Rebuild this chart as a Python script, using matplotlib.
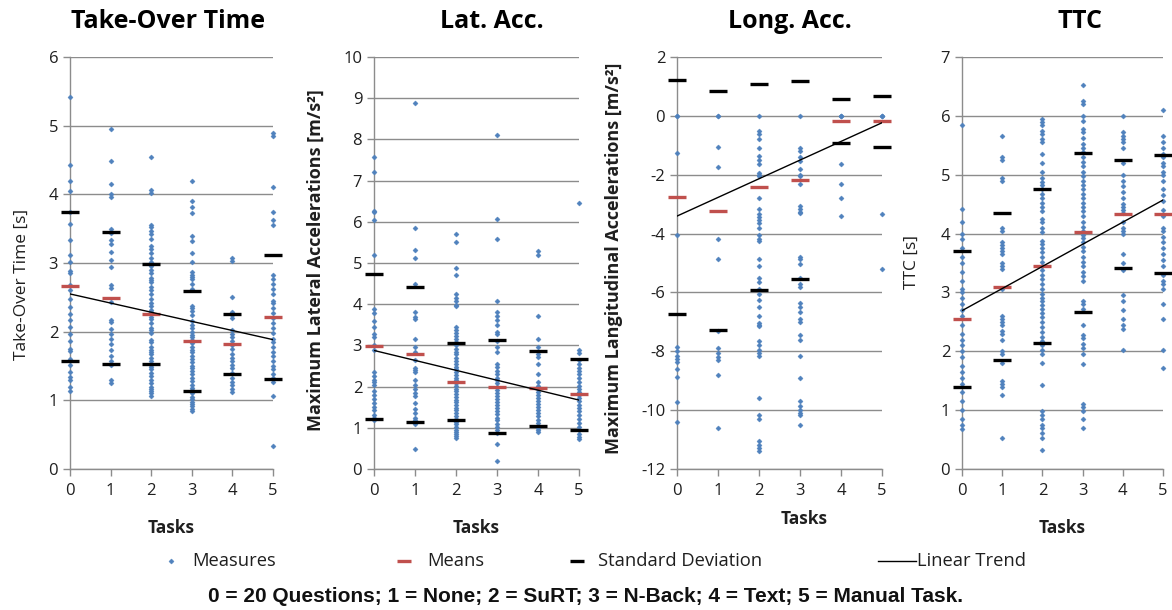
import numpy as np
import matplotlib
matplotlib.use("Agg")
import matplotlib.pyplot as plt

plt.rcParams["font.family"] = ["Open Sans", "DejaVu Sans"]
plt.rcParams["axes.unicode_minus"] = False

TASKS = [0, 1, 2, 3, 4, 5]

# ---- Take-Over Time [s] ----
tot_measures = [
    [5.42, 4.43, 4.19, 4.05, 3.75, 3.57, 3.34, 3.11, 3.02, 2.88, 2.85, 2.68, 2.6, 2.48, 2.36,
     2.26, 2.17, 2.07, 1.97, 1.87, 1.75, 1.72, 1.6, 1.51, 1.41, 1.34, 1.29, 1.19, 1.14],
    [4.95, 4.48, 4.15, 4.0, 3.96, 3.5, 3.43, 3.33, 3.28, 3.16, 3.04, 2.94, 2.68, 2.63, 2.43,
     2.17, 2.14, 2.04, 1.97, 1.9, 1.82, 1.73, 1.65, 1.58, 1.51, 1.29, 1.25],
    [4.55, 4.07, 4.02, 3.55, 3.52, 3.47, 3.42, 3.35, 3.25, 3.2, 3.15, 3.08, 3.02, 2.98, 2.95,
     2.9, 2.85, 2.78, 2.75, 2.72, 2.65, 2.6, 2.55, 2.48, 2.42, 2.38, 2.32, 2.28, 2.22, 2.18,
     2.12, 2.05, 2.02, 1.98, 1.88, 1.85, 1.78, 1.73, 1.7, 1.67, 1.62, 1.58, 1.52, 1.48, 1.45,
     1.4, 1.35, 1.3, 1.25, 1.2, 1.17, 1.13, 1.1, 1.07],
    [4.19, 3.9, 3.82, 3.73, 3.4, 3.32, 3.14, 3.02, 2.87, 2.83, 2.79, 2.76, 2.7, 2.62, 2.38,
     2.35, 2.3, 2.25, 2.15, 2.1, 2.05, 2.0, 1.95, 1.92, 1.88, 1.83, 1.78, 1.74, 1.7, 1.65,
     1.6, 1.56, 1.5, 1.47, 1.42, 1.38, 1.32, 1.28, 1.23, 1.18, 1.15, 1.1, 1.05, 1.02, 0.98,
     0.95, 0.92, 0.88, 0.84],
    [3.08, 3.03, 2.5, 2.28, 2.25, 2.2, 2.02, 1.97, 1.92, 1.86, 1.8, 1.75, 1.68, 1.62, 1.57,
     1.52, 1.47, 1.4, 1.33, 1.27, 1.22, 1.17, 1.12],
    [4.9, 4.85, 4.1, 3.75, 3.63, 3.55, 2.82, 2.77, 2.7, 2.62, 2.55, 2.45, 2.42, 2.35, 2.27,
     2.2, 2.12, 2.05, 1.98, 1.9, 1.85, 1.78, 1.7, 1.65, 1.58, 1.5, 1.45, 1.38, 1.33, 1.27,
     1.07, 0.33],
]
tot_means = [2.66, 2.49, 2.26, 1.86, 1.82, 2.21]
tot_sd = [1.08, 0.965, 0.73, 0.73, 0.435, 0.90]

# ---- Maximum Lateral Accelerations [m/s²] ----
lat_measures = [
    [7.57, 7.22, 6.27, 6.25, 6.05, 5.2, 3.88, 3.78, 3.6, 3.45, 3.27, 3.2, 3.0, 2.9, 2.35,
     2.25, 2.15, 2.1, 2.05, 1.9, 1.8, 1.7, 1.6, 1.5, 1.42, 1.32, 1.25, 1.2],
    [8.88, 5.85, 5.32, 5.12, 4.5, 3.8, 3.7, 3.65, 3.15, 2.95, 2.85, 2.65, 2.45, 2.4, 2.35,
     2.15, 2.05, 1.95, 1.85, 1.78, 1.6, 1.45, 1.35, 1.25, 1.18, 1.1, 0.48],
    [5.7, 5.5, 4.88, 4.72, 4.25, 4.15, 4.08, 3.98, 3.95, 3.45, 3.38, 3.3, 3.22, 3.15, 3.08,
     3.0, 2.92, 2.85, 2.78, 2.7, 2.62, 2.55, 2.48, 2.42, 2.35, 2.28, 2.22, 2.15, 2.08, 2.02,
     1.95, 1.9, 1.82, 1.75, 1.68, 1.62, 1.55, 1.48, 1.42, 1.35, 1.28, 1.22, 1.15, 1.1, 1.02,
     0.95, 0.9, 0.85, 0.8, 0.75],
    [8.1, 6.08, 5.58, 4.07, 3.8, 3.72, 3.62, 3.5, 3.32, 3.28, 3.1, 2.95, 2.85, 2.55, 2.48,
     2.38, 2.3, 2.22, 2.15, 2.08, 2.0, 1.92, 1.85, 1.78, 1.7, 1.63, 1.55, 1.48, 1.4, 1.33,
     1.25, 1.18, 1.1, 1.03, 0.95, 0.88, 0.6, 0.2],
    [5.28, 5.2, 3.72, 3.15, 2.95, 2.78, 2.72, 2.55, 2.3, 2.1, 2.02, 1.95, 1.88, 1.8, 1.72,
     1.65, 1.58, 1.5, 1.42, 1.35, 1.28, 1.2, 1.12, 1.05, 1.0, 0.95, 0.9],
    [6.45, 2.9, 2.82, 2.65, 2.55, 2.45, 2.38, 2.3, 2.2, 2.12, 2.02, 1.95, 1.88, 1.8, 1.72,
     1.65, 1.55, 1.48, 1.4, 1.3, 1.22, 1.12, 1.02, 0.95, 0.85, 0.78, 0.73],
]
lat_means = [2.98, 2.78, 2.12, 2.0, 1.96, 1.81]
lat_sd = [1.76, 1.64, 0.935, 1.13, 0.915, 0.86]

# ---- Maximum Longitudinal Accelerations [m/s²] ----
lon_measures = [
    [0.0, 0.0, -1.27, -4.05, -7.86, -7.99, -8.17, -8.25, -8.37, -8.6, -8.88, -9.73, -10.41],
    [0.0, 0.0, -1.05, -1.75, -4.2, -4.88, -7.3, -7.9, -8.05, -8.2, -8.3, -8.8, -10.6],
    [0.0, -0.5, -0.6, -0.8, -1.1, -1.35, -1.5, -1.65, -1.95, -2.0, -2.05, -2.8, -3.15, -3.35,
     -3.45, -3.55, -3.65, -3.8, -4.05, -4.2, -4.25, -4.85, -5.1, -5.5, -5.65, -5.9, -6.05,
     -6.25, -6.5, -6.8, -7.05, -7.1, -7.15, -7.65, -7.8, -7.95, -8.05, -8.15, -9.6, -10.15,
     -10.3, -11.05, -11.2, -11.3, -11.4],
    [0.0, -1.1, -1.2, -1.4, -1.55, -1.8, -2.0, -2.05, -2.3, -3.05, -3.15, -3.25, -3.3, -4.8,
     -4.85, -5.05, -5.5, -5.7, -5.8, -6.35, -6.5, -6.65, -6.9, -7.0, -7.45, -7.6, -8.15,
     -8.9, -9.7, -9.85, -10.0, -10.1, -10.15, -10.5],
    [0.0, 0.0, 0.0, -1.65, -2.3, -2.8, -3.4],
    [0.0, 0.0, 0.0, -3.35, -5.2],
]
lon_means = [-2.75, -3.22, -2.41, -2.18, -0.18, -0.18]
lon_sd = [3.97, 4.07, 3.5, 3.38, 0.745, 0.87]

# ---- TTC [s] ----
ttc_measures = [
    [5.85, 4.42, 4.2, 4.0, 3.9, 3.75, 3.6, 3.5, 3.35, 3.2, 3.05, 3.0, 2.9, 2.8, 2.7, 2.6,
     2.45, 2.3, 2.2, 2.1, 2.0, 1.9, 1.75, 1.65, 1.55, 1.45, 1.3, 1.15, 1.0, 0.85, 0.75, 0.68],
    [5.65, 5.3, 5.25, 4.95, 4.9, 4.1, 4.05, 3.85, 3.8, 3.75, 3.7, 3.65, 3.5, 3.45, 3.4, 3.05,
     2.6, 2.55, 2.5, 2.45, 2.35, 2.3, 2.2, 2.0, 1.95, 1.8, 1.5, 1.45, 1.4, 1.25, 0.52],
    [5.95, 5.9, 5.85, 5.75, 5.7, 5.6, 5.55, 5.35, 5.2, 5.05, 4.95, 4.88, 4.82, 4.75, 4.68,
     4.6, 4.52, 4.45, 4.38, 4.25, 4.2, 4.1, 4.02, 3.88, 3.82, 3.75, 3.68, 3.6, 3.52, 3.45,
     3.38, 3.3, 3.22, 3.15, 3.05, 2.98, 2.9, 2.85, 2.78, 2.72, 2.65, 2.58, 2.5, 2.42, 2.32,
     2.25, 2.18, 2.1, 2.02, 1.95, 1.8, 1.42, 0.98, 0.92, 0.85, 0.75, 0.7, 0.62, 0.52, 0.33],
    [6.52, 6.25, 6.2, 6.0, 5.92, 5.78, 5.72, 5.62, 5.52, 5.45, 5.38, 5.3, 5.22, 5.15, 5.05,
     4.98, 4.9, 4.82, 4.75, 4.68, 4.6, 4.52, 4.45, 4.38, 4.3, 4.2, 4.12, 4.05, 3.98, 3.92,
     3.85, 3.78, 3.7, 3.6, 3.52, 3.45, 3.35, 3.28, 3.2, 2.85, 2.8, 2.72, 2.45, 2.28, 2.22,
     2.12, 2.05, 1.95, 1.78, 1.1, 1.05, 0.98, 0.85, 0.7],
    [6.0, 5.72, 5.65, 5.6, 5.55, 5.45, 5.2, 5.0, 4.9, 4.8, 4.7, 4.6, 4.5, 4.45, 4.4, 4.35,
     4.2, 4.1, 4.05, 4.0, 3.65, 3.5, 3.38, 2.95, 2.85, 2.7, 2.55, 2.45, 2.38, 2.02],
    [6.1, 5.65, 5.55, 5.45, 5.35, 5.3, 5.2, 5.15, 5.05, 5.0, 4.9, 4.75, 4.65, 4.55, 4.4,
     4.3, 4.1, 4.05, 3.95, 3.85, 3.75, 3.65, 3.55, 3.45, 3.3, 3.2, 3.15, 3.05, 2.8, 2.55,
     2.02, 1.72],
]
ttc_means = [2.55, 3.10, 3.45, 4.02, 4.33, 4.33]
ttc_sd = [1.16, 1.245, 1.31, 1.345, 0.915, 1.0]

BLUE = "#4F81BD"
RED = "#C0504D"
GRID = "#8C8C8C"
TXT = "#1f1f1f"

W, H = 1172, 610
fig = plt.figure(figsize=(W / 100, H / 100), dpi=100)


def px_axes(left, right, top=57, bottom=469):
    return fig.add_axes([left / W, (H - bottom) / H, (right - left) / W, (bottom - top) / H])


panels = [
    dict(box=(70, 273), measures=tot_measures, means=tot_means, sd=tot_sd,
         ylim=(0, 6), ticks=np.arange(0, 7, 1), title="Take-Over Time", tx=168,
         ylabel="Take-Over Time [s]", yx=22, yy=284, ybold=False, xl_y=528),
    dict(box=(374, 579), measures=lat_measures, means=lat_means, sd=lat_sd,
         ylim=(0, 10), ticks=np.arange(0, 11, 1), title="Lat. Acc.", tx=492,
         ylabel="Maximum Lateral Accelerations [m/s²]", yx=316, yy=260, ybold=True,
         xl_y=528),
    dict(box=(677, 882), measures=lon_measures, means=lon_means, sd=lon_sd,
         ylim=(-12, 2), ticks=np.arange(-12, 3, 2), title="Long. Acc.", tx=790,
         ylabel="Maximum Langitudinal Accelerations [m/s²]", yx=614, yy=258, ybold=True,
         xl_y=519, xl_x=804),
    dict(box=(962, 1163), measures=ttc_measures, means=ttc_means, sd=ttc_sd,
         ylim=(0, 7), ticks=np.arange(0, 8, 1), title="TTC", tx=1080,
         ylabel="TTC [s]", yx=912, yy=262, ybold=False, xl_y=528),
]

for p in panels:
    ax = px_axes(*p["box"])
    ax.set_xlim(0, 5)
    ax.set_ylim(*p["ylim"])
    ax.set_yticks(p["ticks"])
    ax.set_xticks(TASKS)
    for s in ("top", "right"):
        ax.spines[s].set_visible(False)
    for s in ("left", "bottom"):
        ax.spines[s].set_color(GRID)
        ax.spines[s].set_linewidth(1.0)
    ax.grid(axis="y", color=GRID, lw=1.0)
    ax.set_axisbelow(True)
    ax.tick_params(axis="both", colors=GRID, length=5, width=1.0, labelcolor=TXT,
                   labelsize=12)
    ax.tick_params(axis="x", pad=5)

    for t, vals in zip(TASKS, p["measures"]):
        ax.plot([t] * len(vals), vals, ls="none", marker="D", ms=2.6, mew=0.3,
                color=BLUE, clip_on=False, zorder=3)
    means = np.array(p["means"])
    sd = np.array(p["sd"])
    ax.plot(TASKS, means, ls="none", marker="_", ms=13, mew=2.4, color=RED,
            clip_on=False, zorder=4)
    ax.plot(TASKS, means + sd, ls="none", marker="_", ms=13, mew=2.4, color="black",
            clip_on=False, zorder=4)
    ax.plot(TASKS, means - sd, ls="none", marker="_", ms=13, mew=2.4, color="black",
            clip_on=False, zorder=4)
    k, b = np.polyfit(TASKS, means, 1)
    ax.plot([0, 5], [b, b + 5 * k], color="black", lw=1.0, zorder=5)

    fig.text(p["tx"] / W, 1 - 22 / H, p["title"], ha="center", va="center",
             fontsize=18, fontweight="bold", color="black")
    fig.text(p["yx"] / W, 1 - p["yy"] / H, p["ylabel"], rotation=90, ha="center",
             va="center", fontsize=13 if p["ybold"] else 12.5, color=TXT,
             fontweight="bold" if p["ybold"] else "normal")
    xl_x = p.get("xl_x", (p["box"][0] + p["box"][1]) / 2)
    fig.text(xl_x / W, 1 - p["xl_y"] / H, "Tasks", ha="center", va="center",
             fontsize=12.5, fontweight="bold", color=TXT)

# legend row, laid out in pixel coordinates
lg = fig.add_axes([0, 0, 1, 1])
lg.set_xlim(0, W)
lg.set_ylim(H, 0)
lg.axis("off")
ly = 561
lg.plot([171], [ly], ls="none", marker="D", ms=2.6, mew=0.3, color=BLUE)
lg.text(192, ly, "Measures", va="center", fontsize=13.2, color=TXT)
lg.plot([404], [ly], ls="none", marker="_", ms=10, mew=2.4, color=RED)
lg.text(427, ly, "Means", va="center", fontsize=13.2, color=TXT)
lg.plot([577], [ly], ls="none", marker="_", ms=10, mew=2.4, color="black")
lg.text(598, ly, "Standard Deviation", va="center", fontsize=13.2, color=TXT)
lg.plot([878, 916], [ly, ly], color="black", lw=1.0)
lg.text(917, ly, "Linear Trend", va="center", fontsize=13.2, color=TXT)

fig.text(586 / W, 1 - 597 / H,
         "0 = 20 Questions; 1 = None; 2 = SuRT; 3 = N-Back; 4 = Text; 5 = Manual Task.",
         ha="center", va="center", fontsize=15, fontweight="bold", color="#111111",
         family=["Liberation Sans", "DejaVu Sans"])

fig.savefig("out.png", dpi=100)
